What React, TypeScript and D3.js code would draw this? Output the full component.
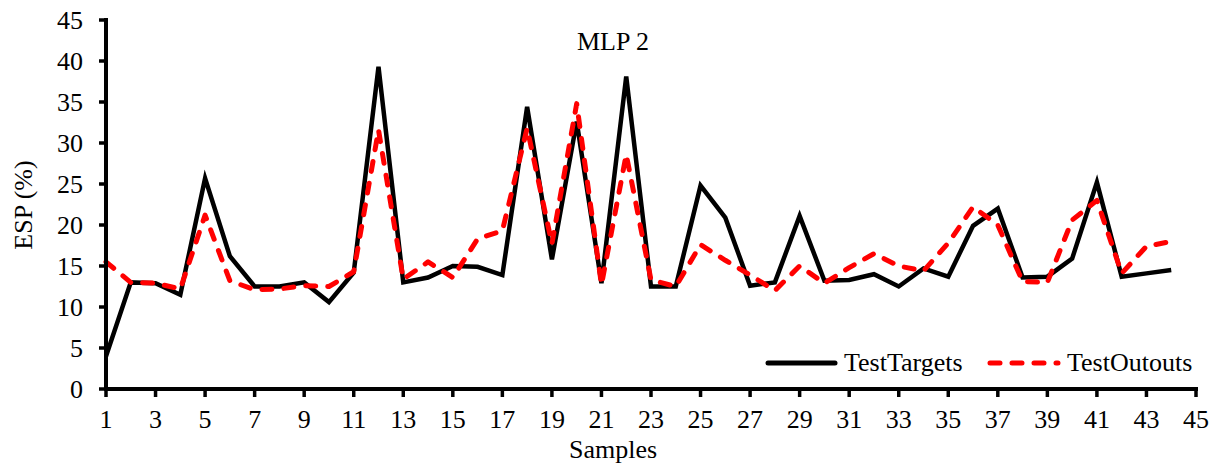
import React from "react";
import * as d3 from "d3";

const samples: number[] = Array.from({ length: 44 }, (_, i) => i + 1);
const testTargets: number[] = [
  4.0, 13.0, 12.9, 11.5, 25.7, 16.2, 12.5, 12.5, 13.0, 10.6,
  14.2, 39.3, 13.0, 13.6, 15.0, 14.9, 13.9, 34.4, 15.8, 32.6,
  12.9, 38.1, 12.5, 12.5, 24.8, 20.9, 12.6, 13.0, 21.1, 13.2,
  13.3, 14.0, 12.5, 14.7, 13.7, 19.9, 22.0, 13.6, 13.7, 15.9,
  25.2, 13.7, 14.1, 14.5,
];
const testOutouts: number[] = [
  15.5, 13.0, 12.9, 12.2, 21.2, 13.2, 12.1, 12.2, 12.6, 12.5,
  14.3, 31.6, 13.4, 15.5, 13.6, 18.3, 19.3, 31.8, 17.7, 34.8,
  12.7, 28.6, 13.3, 12.5, 17.6, 15.7, 13.9, 12.0, 15.0, 12.9,
  14.8, 16.5, 15.0, 14.4, 17.8, 22.2, 20.0, 13.1, 13.0, 20.6,
  23.0, 14.1, 17.4, 18.0,
];
const xTicks: number[] = d3.range(1, 46, 2);
const yTicks: number[] = d3.range(0, 46, 5);
const title = "MLP 2";
const xLabel = "Samples";
const yLabel = "ESP (%)";
const seriesNames = ["TestTargets", "TestOutouts"];

export default function App() {
  const W = 1216, H = 464;
  const x = d3.scaleLinear().domain([1, 45]).range([106, 1196]);
  const y = d3.scaleLinear().domain([0, 45]).range([389, 20]);
  const line = d3
    .line<number>()
    .x((_, i) => x(samples[i]))
    .y((d) => y(d));
  const font = "'Liberation Serif', 'Times New Roman', serif";
  const fs = 26;
  return (
    <svg
      width={W}
      height={H}
      style={{ position: "absolute", left: 0, top: 0, background: "#fff" }}
      fontFamily={font}
    >
      <text x={613} y={50} fontSize={fs} textAnchor="middle" fill="#000">
        {title}
      </text>
      <path d={line(testTargets) || ""} fill="none" stroke="#000" strokeWidth={4.5} strokeLinejoin="miter" />
      <path
        d={line(testOutouts) || ""}
        fill="none"
        stroke="#ff0000"
        strokeWidth={5}
        strokeDasharray="10,12"
        strokeLinecap="round"
        strokeLinejoin="round"
      />
      {/* axes */}
      <line x1={x(1)} x2={x(1)} y1={y(45) - 2} y2={y(0) + 2} stroke="#000" strokeWidth={4} />
      <line x1={x(1) - 2} x2={x(45) + 2} y1={y(0)} y2={y(0)} stroke="#000" strokeWidth={4} />
      {yTicks.map((t) => (
        <g key={"y" + t}>
          <line x1={x(1) - 7} x2={x(1)} y1={y(t)} y2={y(t)} stroke="#000" strokeWidth={3.5} />
          <text x={83} y={y(t) + 9} fontSize={fs} textAnchor="end" fill="#000">
            {t}
          </text>
        </g>
      ))}
      {xTicks.map((t) => (
        <g key={"x" + t}>
          <line x1={x(t)} x2={x(t)} y1={y(0)} y2={y(0) + 8} stroke="#000" strokeWidth={3.5} />
          <text x={x(t)} y={428} fontSize={fs} textAnchor="middle" fill="#000">
            {t}
          </text>
        </g>
      ))}
      <text x={613} y={458} fontSize={fs} textAnchor="middle" fill="#000">
        {xLabel}
      </text>
      <text
        transform="translate(32,205) rotate(-90)"
        fontSize={fs}
        textAnchor="middle"
        fill="#000"
      >
        {yLabel}
      </text>
      {/* legend */}
      <line x1={768} x2={835} y1={363} y2={363} stroke="#000" strokeWidth={5} strokeLinecap="round" />
      <text x={844} y={371} fontSize={fs} fill="#000">
        {seriesNames[0]}
      </text>
      <line
        x1={990}
        x2={1058}
        y1={363}
        y2={363}
        stroke="#ff0000"
        strokeWidth={5}
        strokeDasharray="10,12"
        strokeLinecap="round"
      />
      <text x={1067} y={371} fontSize={fs} fill="#000">
        {seriesNames[1]}
      </text>
    </svg>
  );
}
